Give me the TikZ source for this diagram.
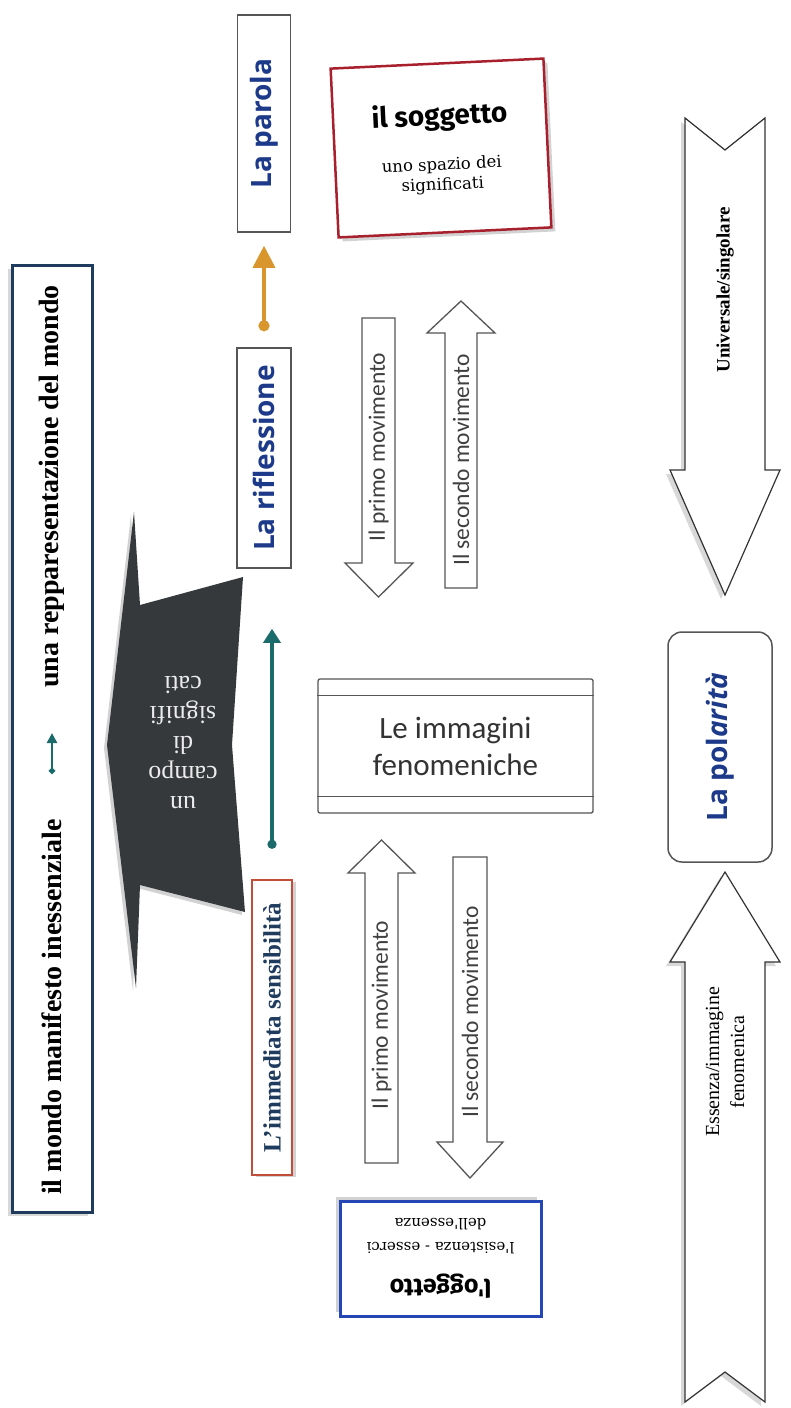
\documentclass[tikz,border=0pt]{standalone}
\usepackage{fontspec}
\setmainfont{Liberation Serif}
\newfontfamily\firasans{Fira Sans}
\newfontfamily\opensans{Open Sans}
\newfontfamily\carlito{Carlito}
\newfontfamily\dvserif{DejaVu Serif}
\usepackage{tikz}
\usetikzlibrary{arrows.meta,shadows}

\definecolor{navy}{HTML}{1F3B5E}
\definecolor{labelblue}{HTML}{1D3A8A}
\definecolor{tealc}{HTML}{1B6B6B}
\definecolor{orangec}{HTML}{D8962C}
\definecolor{redc}{HTML}{A8202D}
\definecolor{rustc}{HTML}{C24E3A}
\definecolor{bluec}{HTML}{2447B5}
\definecolor{darkshape}{HTML}{36393C}
\definecolor{greyline}{HTML}{555555}

\begin{document}
\begin{tikzpicture}[
    x=1pt, y=-1pt,
    mondobox/.style={draw=navy, line width=3pt, fill=white, minimum width=80pt, minimum height=947pt,
      drop shadow={opacity=.3, shadow xshift=-4pt, shadow yshift=-4pt}},
    mondotext/.style={rotate=90, inner sep=0pt, font=\bfseries\fontsize{28}{34}\selectfont},
    labelbox/.style={draw=greyline, line width=1.5pt, fill=white, rotate=90, inner sep=0pt,
      text=labelblue, font=\opensans\bfseries\fontsize{28}{34}\selectfont},
    sensbox/.style={draw=rustc, line width=2.5pt, fill=white, rotate=90, inner sep=0pt,
      minimum width=295pt, minimum height=40pt, text=navy,
      font=\bfseries\fontsize{25}{30}\selectfont,
      drop shadow={opacity=.35, shadow xshift=4pt, shadow yshift=-2pt}},
    campotext/.style={rotate=180, align=center, text=white!92!black,
      font=\fontsize{26}{30}\selectfont},
    soggbox/.style={draw=redc, line width=2.5pt, fill=white, rotate=2.7, align=center,
      minimum width=213pt, minimum height=169pt, font=\dvserif\fontsize{16.5}{20}\selectfont,
      drop shadow={opacity=.35, shadow xshift=4pt, shadow yshift=-4pt}},
    oggbox/.style={draw=bluec, line width=3pt, fill=white, rotate=180, align=center,
      minimum width=201pt, minimum height=115pt, font=\dvserif\fontsize{15}{24}\selectfont,
      drop shadow={opacity=.35, shadow xshift=-4pt, shadow yshift=4pt}},
    imgbox/.style={draw=greyline, line width=1.3pt, rounded corners=2pt, align=center,
      minimum width=275pt, minimum height=134pt, text=black!80,
      font=\carlito\fontsize{31}{37}\selectfont},
    movearrow/.style={draw=greyline, line width=1.3pt, fill=white},
    movetext/.style={rotate=90, text=black!75, font=\carlito\fontsize{23.5}{28}\selectfont},
    bigarrow/.style={draw=black!80, line width=1.2pt, fill=white,
      drop shadow={opacity=.3, shadow xshift=-4pt, shadow yshift=-4pt}},
    bigtext/.style={rotate=90, align=center, font=\fontsize{20}{25}\selectfont},
    polarbox/.style={draw=greyline, line width=1.5pt, rounded corners=14pt, rotate=90,
      minimum width=230pt, minimum height=104pt, text=labelblue,
      font=\opensans\bfseries\fontsize{28}{34}\selectfont},
    tealline/.style={draw=tealc, line width=3.2pt, {Circle[length=9pt]}-{Triangle[length=14pt,width=17pt]}},
    tealsmall/.style={draw=tealc, line width=2.6pt, {Circle[length=6pt]}-{Triangle[length=10pt,width=10pt]}},
    orangeline/.style={draw=orangec, line width=3.4pt, {Circle[length=11pt]}-{Triangle[length=22pt,width=22pt]}}
  ]
    \fill[white] (0,0) rectangle (790,1408);
    \useasboundingbox (0,0) rectangle (790,1408);

    % colonna del mondo
    \node[mondobox] (mondo) at (52,738.5) {};
    \node[mondotext, anchor=west] (manifesto) at (52,1195) {il mondo manifesto inessenziale};
    \node[mondotext, anchor=east] (rappr) at (52,285) {una repparesentazione del mondo};
    \draw[tealsmall, shorten <=45pt, shorten >=45pt] (manifesto) -- (rappr);

    % il campo
    \fill[darkshape, drop shadow={opacity=.35, shadow xshift=-3pt, shadow yshift=-3pt}]
      (243,577) -- (140,605) -- (134,512) -- (107,745) -- (136,988)
      -- (140,885) -- (245,912) -- (232,745) -- cycle;
    \node[campotext] (campo) at (183,742) {un\\campo\\di\\signifi\\cati};

    % parola, riflessione, sensibilita
    \node[labelbox, minimum width=217pt, minimum height=53pt] (parola) at (264,123.5) {La parola};
    \node[labelbox, minimum width=220pt, minimum height=54pt] (rifl) at (264,458) {La riflessione};
    \node[sensbox] (sens) at (272,1027.5) {L'immediata sensibilità};
    \draw[orangeline, shorten <=16pt, shorten >=13pt] (rifl) -- (parola);
    \draw[tealline, shorten <=30pt, shorten >=60pt] (sens.east) -- (sens.east |- rifl.west);

    % soggetto e oggetto
    \node[soggbox] (sogg) at (441,148)
      {{\firasans\bfseries\fontsize{28}{34}\selectfont il soggetto}\\[25pt]uno spazio dei\\significati};
    \node[oggbox] (ogg) at (440.5,1258.5)
      {{\firasans\bfseries\fontsize{25}{30}\selectfont l'oggetto}\\[13pt]l'esistenza - esserci\\dell'essenza};

    % i movimenti
    \draw[movearrow] (362,318) -- (395,318) -- (395,563) -- (413,563) -- (378.5,597)
      -- (345,563) -- (362,563) -- cycle;
    \node[movetext] (primoA) at (378.5,447) {Il primo movimento};
    \draw[movearrow] (445,588) -- (445,333) -- (427,333) -- (461,301) -- (495,333)
      -- (477,333) -- (477,588) -- cycle;
    \node[movetext] (secondoA) at (461,460) {Il secondo movimento};
    \draw[movearrow] (365,1163) -- (365,873) -- (348,873) -- (381.5,840) -- (415,873)
      -- (398,873) -- (398,1163) -- cycle;
    \node[movetext] (primoB) at (381.5,1015) {Il primo movimento};
    \draw[movearrow] (453,857) -- (487,857) -- (487,1142) -- (503,1142) -- (470,1178)
      -- (437,1142) -- (453,1142) -- cycle;
    \node[movetext] (secondoB) at (470,1012) {Il secondo movimento};

    % immagini fenomeniche
    \node[imgbox] (immagini) at (455.5,746) {Le immagini\\fenomeniche};
    \draw[greyline, line width=1.3pt] ([yshift=-17pt]immagini.north west) -- ([yshift=-17pt]immagini.north east);
    \draw[greyline, line width=1.3pt] ([yshift=17pt]immagini.south west) -- ([yshift=17pt]immagini.south east);

    % polarita
    \draw[bigarrow] (685,118) -- (725,150) -- (765,118) -- (765,470) -- (780,470)
      -- (725,595) -- (670,470) -- (685,470) -- cycle;
    \node[bigtext, font=\bfseries\fontsize{19}{24}\selectfont] (univ) at (725,290) {Universale/singolare};
    \node[polarbox] (polar) at (720,747) {La pol\textit{arità}};
    \draw[bigarrow] (725,872) -- (780,962) -- (765,962) -- (765,1402) -- (725,1372)
      -- (685,1402) -- (685,962) -- (670,962) -- cycle;
    \node[bigtext] (essenza) at (725,1062) {Essenza/immagine\\fenomenica};
  \end{tikzpicture}
\end{document}
